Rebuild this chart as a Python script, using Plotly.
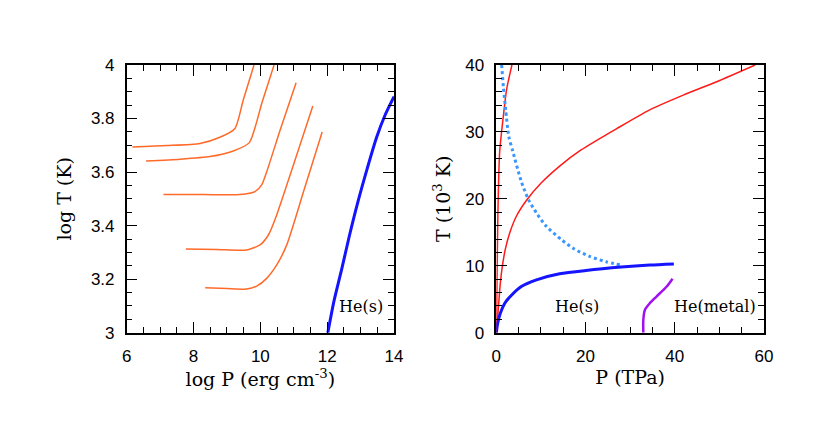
import plotly.graph_objects as go
from plotly.subplots import make_subplots

# left panel: adiabats (log P, log T)
ad1_logp = [6.17, 7.2, 8.19, 8.79, 9.24, 9.49, 9.81]
ad1_logt = [3.694, 3.699, 3.707, 3.730, 3.763, 3.87, 4.0]
ad2_logp = [6.58, 7.6, 8.49, 9.19, 9.67, 10.05, 10.41]
ad2_logt = [3.641, 3.648, 3.658, 3.679, 3.710, 3.86, 4.0]
ad3_logp = [7.10, 8.3, 9.39, 9.84, 10.04, 10.19, 10.6, 11.07]
ad3_logt = [3.516, 3.516, 3.516, 3.527, 3.552, 3.601, 3.76, 3.934]
ad4_logp = [7.77, 8.7, 9.59, 9.99, 10.24, 10.49, 11.0, 11.57]
ad4_logt = [3.313, 3.311, 3.309, 3.328, 3.365, 3.440, 3.63, 3.847]
ad5_logp = [8.35, 9.0, 9.59, 9.89, 10.19, 10.49, 10.79, 11.3, 11.85]
ad5_logt = [3.168, 3.165, 3.163, 3.174, 3.203, 3.253, 3.328, 3.53, 3.750]
hes_logp = [12.02, 12.2, 12.44, 12.67, 12.92, 13.2, 13.48, 13.74, 14.0]
hes_logt = [3.0, 3.116, 3.240, 3.365, 3.489, 3.614, 3.730, 3.815, 3.882]

# right panel: phase diagram (P in TPa, T in 10^3 K)
red1_p = [0.0, 0.15, 0.35, 0.75, 1.57, 2.3, 3.5]
red1_t = [0.0, 7.4, 17.4, 27.0, 32.3, 36.3, 40.0]
red2_p = [0.0, 0.3, 0.6, 0.9, 1.35, 2.0, 3.0, 4.5, 6.9, 10.1, 14.2, 19.0, 27.0, 34.4, 41.9, 49.4, 58.0]
red2_t = [0.0, 2.4, 4.9, 7.4, 9.9, 12.4, 14.9, 17.4, 19.9, 22.4, 24.9, 27.3, 30.5, 33.3, 35.5, 37.5, 40.0]
dot_p = [1.2, 1.6, 2.1, 2.8, 3.7, 5.6, 7.2, 9.0, 11.2, 14.6, 17.5, 20.9, 24.6, 28.0]
dot_t = [40.0, 36.6, 33.3, 29.3, 27.1, 22.6, 19.9, 17.9, 15.9, 13.9, 12.5, 11.4, 10.6, 10.1]
melt_p = [0.0, 0.3, 0.9, 1.9, 3.4, 5.6, 9.0, 14.2, 20.1, 28.0, 34.4, 39.8]
melt_t = [0.0, 1.4, 2.9, 4.4, 5.6, 6.9, 7.9, 8.8, 9.3, 9.8, 10.1, 10.26]
metal_p = [32.95, 32.95, 33.3, 34.4, 35.9, 38.2, 39.5]
metal_t = [0.0, 1.9, 3.4, 4.4, 5.4, 6.9, 8.07]

orange = "#ff6a2a"
fig = make_subplots(rows=1, cols=2)

for xs, ys in [(ad1_logp, ad1_logt), (ad2_logp, ad2_logt), (ad3_logp, ad3_logt),
               (ad4_logp, ad4_logt), (ad5_logp, ad5_logt)]:
    fig.add_trace(go.Scatter(x=xs, y=ys, mode="lines", line=dict(color=orange, width=1.5, shape="spline", smoothing=0.6)), 1, 1)
fig.add_trace(go.Scatter(x=hes_logp, y=hes_logt, mode="lines", line=dict(color="#1414ff", width=3, shape="spline", smoothing=0.7)), 1, 1)

fig.add_trace(go.Scatter(x=red1_p, y=red1_t, mode="lines", line=dict(color="#ff1a1a", width=1.5, shape="spline", smoothing=0.7)), 1, 2)
fig.add_trace(go.Scatter(x=red2_p, y=red2_t, mode="lines", line=dict(color="#ff1a1a", width=1.5, shape="spline", smoothing=0.7)), 1, 2)
fig.add_trace(go.Scatter(x=dot_p, y=dot_t, mode="lines", line=dict(color="#3a96ff", width=3, dash="dot", shape="spline", smoothing=0.7)), 1, 2)
fig.add_trace(go.Scatter(x=melt_p, y=melt_t, mode="lines", line=dict(color="#1414ff", width=3, shape="spline", smoothing=0.7)), 1, 2)
fig.add_trace(go.Scatter(x=metal_p, y=metal_t, mode="lines", line=dict(color="#a010f0", width=2.5, shape="spline", smoothing=0.7)), 1, 2)

txt = dict(family="DejaVu Serif", size=16, color="black")
fig.add_annotation(x=13.0, y=3.097, xref="x", yref="y", text="He(s)", showarrow=False, font=txt)
fig.add_annotation(x=18.0, y=3.9, xref="x2", yref="y2", text="He(s)", showarrow=False, font=txt)
fig.add_annotation(x=49.0, y=3.9, xref="x2", yref="y2", text="He(metal)", showarrow=False, font=txt)

ax = dict(showline=True, linecolor="black", linewidth=1.5, mirror="ticks", ticks="inside",
          ticklen=11, tickwidth=1.2, tickcolor="black", showgrid=False, zeroline=False, automargin=False,
          tickfont=dict(family="Liberation Sans", size=17, color="black"), ticklabelstandoff=7)
ttl = dict(family="DejaVu Serif", size=19, color="black")
minor = lambda d: dict(dtick=d, ticks="inside", ticklen=6, tickwidth=1.2, tickcolor="black")

# page body adds an 8px offset, domains compensate for it
xl = [(126.7 - 8) / 831, (394 - 8) / 831]
xr = [(496.3 - 8) / 831, (764 - 8) / 831]
yd = [1 - (332.7 - 8) / 423, 1 - (65 - 8) / 423]

fig.update_xaxes(ax, range=[6, 14], dtick=2, minor=minor(0.5), domain=xl,
                 title=dict(text="log P (erg cm<sup>-3</sup>)", font=ttl, standoff=6), row=1, col=1)
fig.update_yaxes(ax, range=[3, 4], dtick=0.2, minor=minor(0.05), domain=yd,
                 title=dict(text="log T (K)", font=ttl, standoff=14), row=1, col=1)
fig.update_xaxes(ax, range=[0, 60], dtick=20, minor=minor(5), domain=xr,
                 title=dict(text="P (TPa)", font=ttl, standoff=6), row=1, col=2)
fig.update_yaxes(ax, range=[0, 40], dtick=10, minor=minor(2), domain=yd,
                 title=dict(text="T (10<sup>3</sup> K)", font=ttl, standoff=10), row=1, col=2)

fig.update_layout(width=831, height=423, showlegend=False, plot_bgcolor="white", paper_bgcolor="white",
                  margin=dict(l=0, r=0, t=0, b=0))
fig.write_html("out.html")
